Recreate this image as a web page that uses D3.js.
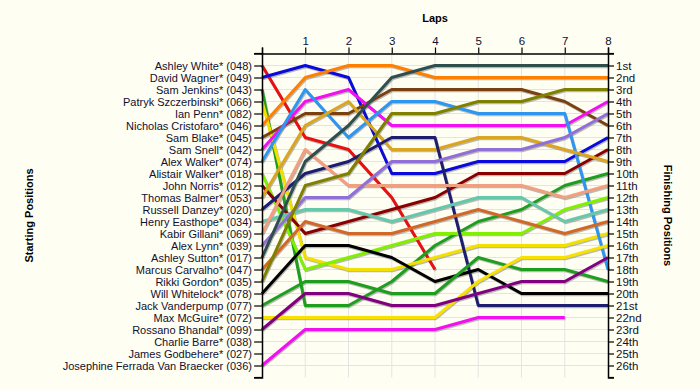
<!DOCTYPE html>
<html><head><meta charset="utf-8">
<script src="https://cdn.jsdelivr.net/npm/d3@7/dist/d3.min.js"></script>
<style>
html,body{margin:0;padding:0;background:#FFFEF2;}
svg{display:block;font-family:"Liberation Sans",Arial,sans-serif;}
</style></head><body>
<svg id="c" width="700" height="390"></svg>
<script>
const drivers = ["Ashley White* (048)","David Wagner* (049)","Sam Jenkins* (043)","Patryk Szczerbinski* (066)","Ian Penn* (082)","Nicholas Cristofaro* (046)","Sam Blake* (045)","Sam Snell* (042)","Alex Walker* (074)","Alistair Walker* (018)","John Norris* (012)","Thomas Balmer* (053)","Russell Danzey* (020)","Henry Easthope* (034)","Kabir Gillani* (069)","Alex Lynn* (039)","Ashley Sutton* (017)","Marcus Carvalho* (047)","Rikki Gordon* (035)","Will Whitelock* (078)","Jack Vanderpump (077)","Max McGuire* (072)","Rossano Bhandal* (099)","Charlie Barre* (038)","James Godbehere* (027)","Josephine Ferrada Van Braecker (036)"];
const laps = [1,2,3,4,5,6,7,8];
const finishLabels = ["1st","2nd","3rd","4th","5th","6th","7th","8th","9th","10th","11th","12th","13th","14th","15th","16th","17th","18th","19th","20th","21st","22nd","23rd","24th","25th","26th"];
// positions from lap 0 (start) to last completed lap
const positions = [
  [1,7,8,12,18],                 // Ashley White
  [2,1,2,10,10,9,9,9,7],         // David Wagner
  [3,21,21,19,16,14,13,11,10],   // Sam Jenkins
  [4,17,18,18,17,16,16,16,15],   // Patryk Szczerbinski
  [],                            // Ian Penn
  [6,2,1,1,2,2,2,2,2],           // Nicholas Cristofaro
  [7,5,5,3,3,3,3,4,6],           // Sam Blake
  [8,4,3,6,6,6,6,6,4],           // Sam Snell
  [9,3,7,4,4,5,5,5,18],          // Alex Walker
  [10,18,17,16,15,15,15,13,12],  // Alistair Walker
  [11,15,14,13,12,10,10,10,8],   // John Norris
  [12,6,4,8,8,7,7,8,9],          // Thomas Balmer
  [13,10,9,7,7,21,21,21,21],     // Russell Danzey
  [14,13,13,14,13,12,12,14,13],  // Henry Easthope
  [15,8,11,11,11,11,11,12,11],   // Kabir Gillani
  [16,12,12,9,9,8,8,7,5],        // Alex Lynn
  [17,9,6,2,1,1,1,1,1],          // Ashley Sutton
  [18,14,15,15,14,13,14,15,14],  // Marcus Carvalho
  [19,11,10,5,5,4,4,3,3],        // Rikki Gordon
  [20,16,16,17,19,18,20,20,20],  // Will Whitelock
  [21,19,19,20,20,17,18,18,19],  // Jack Vanderpump
  [22,22,22,22,22,19,17,17,16],  // Max McGuire
  [23,20,20,21,21,20,19,19,17],  // Rossano Bhandal
  [],                            // Charlie Barre
  [],                            // James Godbehere
  [26,23,23,23,23,22,22,22]      // Josephine Ferrada Van Braecker
];
const colors = ["#E81010","#0A0ADC","#1E9E1E","#F2E000","#999999","#FF8000","#7A4010","#F010F0","#2E96F0","#80F000","#880000","#DAA520","#1E1E70","#66C8AA","#F0A080","#9070D8","#2F4F4F","#D06828","#808000","#000000","#1E9E1E","#F8E000","#800080","#999999","#999999","#F010F0"];

const svg = d3.select("#c");
const x = d3.scaleLinear().domain([0,8]).range([262,608]);
const y = d3.scaleLinear().domain([0,27]).range([53.5,377.5]);
const pos = d3.range(1,27);

// grid
const g = svg.append("g");
g.selectAll(".hg").data(pos).join("line")
  .attr("x1",x(0)).attr("x2",x(8)).attr("y1",d=>y(d)).attr("y2",d=>y(d))
  .attr("stroke","#E4E4E4").attr("stroke-width",1);
g.selectAll(".vg").data(laps.slice(0,7)).join("line")
  .attr("x1",d=>x(d)).attr("x2",d=>x(d)).attr("y1",y(0)).attr("y2",y(27))
  .attr("stroke","#E4E4E4").attr("stroke-width",1);

// lines
const line = d3.line().x((d,i)=>x(i)).y(d=>y(d));
const data = positions.map((p,i)=>({p,c:colors[i]})).filter(d=>d.p.length>1);
svg.append("g").selectAll("path").data(data).join("path")
  .attr("d",d=>line(d.p)).attr("fill","none")
  .attr("stroke","#808080").attr("stroke-opacity",0.55).attr("stroke-width",3)
  .attr("transform","translate(0.8,1.2)").attr("stroke-linejoin","round");
svg.append("g").selectAll("path").data(data).join("path")
  .attr("d",d=>line(d.p)).attr("fill","none")
  .attr("stroke",d=>d.c).attr("stroke-width",3).attr("stroke-linejoin","round");

// axes
const fs = "11px";
const axLeft = svg.append("g").attr("transform",`translate(${x(0)},0)`)
  .call(d3.axisLeft(y).tickValues(pos).tickFormat(d=>drivers[d-1]).tickSize(8).tickPadding(2));
const axRight = svg.append("g").attr("transform",`translate(${x(8)},0)`)
  .call(d3.axisRight(y).tickValues(pos).tickFormat(d=>finishLabels[d-1]).tickSize(6).tickPadding(2));
const axTop = svg.append("g").attr("transform",`translate(0,${y(0)})`)
  .call(d3.axisTop(x).tickValues([0].concat(laps)).tickFormat(d=>d===0?"":d).tickSize(6).tickPadding(3));
[axLeft,axRight,axTop].forEach(a=>{
  a.select(".domain").attr("stroke","#000").attr("stroke-width",1.5);
  a.selectAll(".tick line").attr("stroke","#000").attr("stroke-width",1.2);
  a.selectAll(".tick text").attr("fill","#101030").style("font-size",fs).style("font-family","Liberation Sans, Arial, sans-serif");
});
axRight.selectAll(".tick text").style("font-size","11.5px");
axTop.selectAll(".tick text").style("font-size","11.5px");
// end ticks
svg.append("line").attr("x1",x(0)-8).attr("x2",x(0)).attr("y1",y(27)).attr("y2",y(27)).attr("stroke","#000").attr("stroke-width",1.2);
svg.append("line").attr("x1",x(8)).attr("x2",x(8)+6).attr("y1",y(27)).attr("y2",y(27)).attr("stroke","#000").attr("stroke-width",1.2);
svg.append("line").attr("x1",x(0)-8).attr("x2",x(0)).attr("y1",y(0)).attr("y2",y(0)).attr("stroke","#000").attr("stroke-width",1.2);
svg.append("line").attr("x1",x(8)).attr("x2",x(8)+6).attr("y1",y(0)).attr("y2",y(0)).attr("stroke","#000").attr("stroke-width",1.2);

// titles
svg.append("text").attr("x",(x(0)+x(8))/2).attr("y",22).attr("text-anchor","middle")
  .style("font-weight","bold").style("font-size","11px").text("Laps");
svg.append("text").attr("transform",`translate(33,${y(13.5)}) rotate(-90)`).attr("text-anchor","middle")
  .style("font-weight","bold").style("font-size","11px").text("Starting Positions");
svg.append("text").attr("transform",`translate(664,${y(13.5)}) rotate(90)`).attr("text-anchor","middle")
  .style("font-weight","bold").style("font-size","11px").text("Finishing Positions");
</script></body></html>
